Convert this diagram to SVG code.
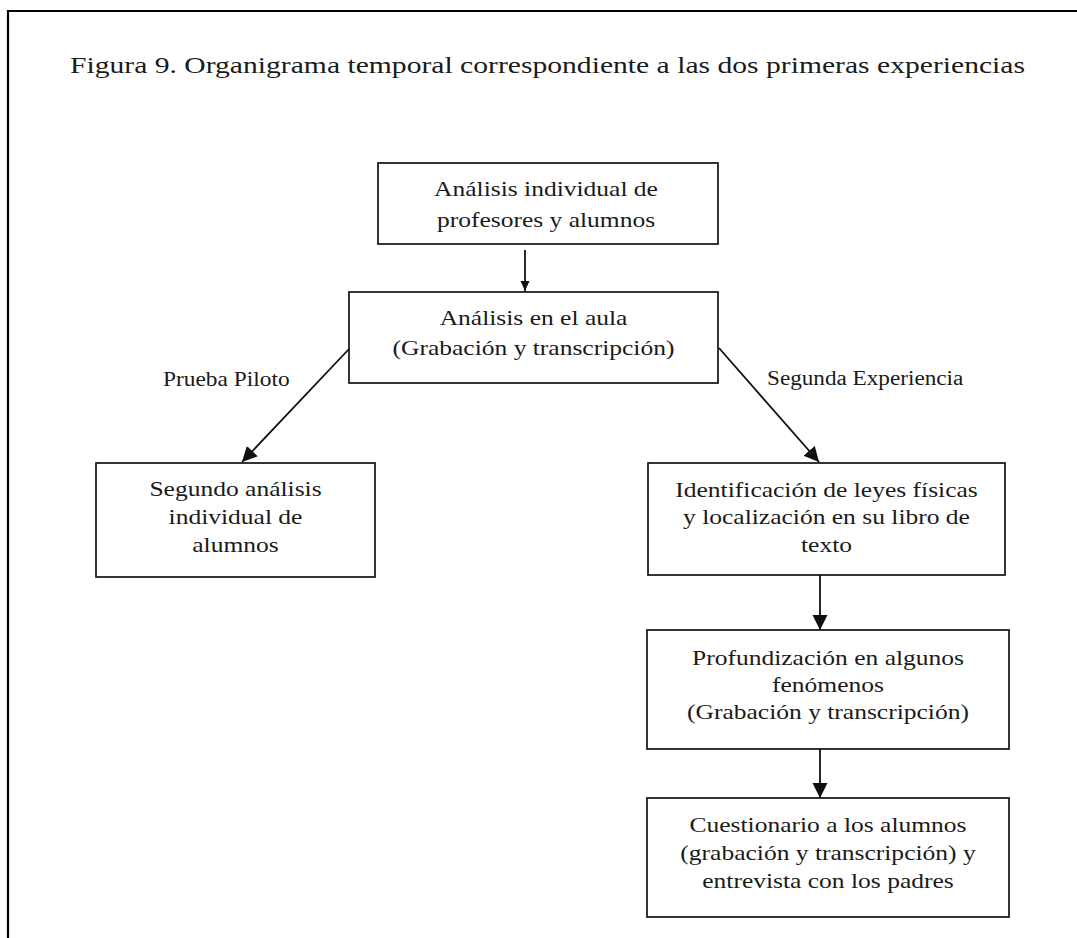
<svg xmlns="http://www.w3.org/2000/svg" width="1077" height="938" viewBox="0 0 1077 938">
  <style>
    .box { fill: #ffffff; stroke: #111111; stroke-width: 1.7; }
    .txt { font-family: "Liberation Serif", "Times New Roman", serif; font-size: 22px; fill: #1a1a1a; text-anchor: middle; }
    .lbl { font-family: "Liberation Serif", "Times New Roman", serif; font-size: 20px; fill: #1a1a1a; }
    .title { font-family: "Liberation Serif", "Times New Roman", serif; font-size: 23px; fill: #1a1a1a; }
    .edge { stroke: #111111; stroke-width: 1.8; fill: none; }
  </style>
  <defs>
    <marker id="head" markerUnits="userSpaceOnUse" markerWidth="17" markerHeight="16" refX="15" refY="7.5" orient="auto">
      <path d="M0,0 L15,7.5 L0,15 Z" fill="#111111"/>
    </marker>
    <marker id="headSmall" markerUnits="userSpaceOnUse" markerWidth="12" markerHeight="10" refX="10" refY="4.5" orient="auto">
      <path d="M0,0 L10,4.5 L0,9 Z" fill="#111111"/>
    </marker>
  </defs>

  <rect width="1077" height="938" fill="#ffffff"/>
  <!-- page frame -->
  <path d="M8,938 V11 H1077" fill="none" stroke="#000000" stroke-width="2.2"/>

  <text class="title" x="70" y="73" textLength="955" lengthAdjust="spacingAndGlyphs">Figura 9. Organigrama temporal correspondiente a las dos primeras experiencias</text>

  <g id="connectors">
    <line class="edge" x1="525" y1="250" x2="525" y2="291" marker-end="url(#headSmall)"/>
    <line class="edge" x1="349" y1="349" x2="242" y2="462" marker-end="url(#head)"/>
    <line class="edge" x1="719" y1="348" x2="819" y2="462" marker-end="url(#head)"/>
    <line class="edge" x1="820" y1="575" x2="820" y2="630" marker-end="url(#head)"/>
    <line class="edge" x1="820" y1="749" x2="820" y2="798" marker-end="url(#head)"/>
    <g transform="translate(163,0) scale(1.17,1)">
      <text class="lbl" x="0" y="386">Prueba Piloto</text>
    </g>
    <g transform="translate(767,0) scale(1.16,1)">
      <text class="lbl" x="0" y="385">Segunda Experiencia</text>
    </g>
  </g>

  <g id="n1">
    <rect class="box" x="378" y="163" width="340" height="81"/>
    <g transform="translate(546,0) scale(1.16,1)">
      <text class="txt" x="0" y="196">Análisis individual de</text>
      <text class="txt" x="0" y="227">profesores y alumnos</text>
    </g>
  </g>

  <g id="n2">
    <rect class="box" x="349" y="292" width="369" height="91"/>
    <g transform="translate(533.5,0) scale(1.16,1)">
      <text class="txt" x="0" y="325">Análisis en el aula</text>
      <text class="txt" x="0" y="355">(Grabación y transcripción)</text>
    </g>
  </g>

  <g id="n3">
    <rect class="box" x="96" y="463" width="279" height="114"/>
    <g transform="translate(235.5,0) scale(1.16,1)">
      <text class="txt" x="0" y="496">Segundo análisis</text>
      <text class="txt" x="0" y="524">individual de</text>
      <text class="txt" x="0" y="552">alumnos</text>
    </g>
  </g>

  <g id="n4">
    <rect class="box" x="648" y="463" width="357" height="112"/>
    <g transform="translate(826.5,0) scale(1.16,1)">
      <text class="txt" x="0" y="497">Identificación de leyes físicas</text>
      <text class="txt" x="0" y="524">y localización en su libro de</text>
      <text class="txt" x="0" y="552">texto</text>
    </g>
  </g>

  <g id="n5">
    <rect class="box" x="647" y="630" width="362" height="119"/>
    <g transform="translate(828,0) scale(1.16,1)">
      <text class="txt" x="0" y="665">Profundización en algunos</text>
      <text class="txt" x="0" y="692">fenómenos</text>
      <text class="txt" x="0" y="719">(Grabación y transcripción)</text>
    </g>
  </g>

  <g id="n6">
    <rect class="box" x="647" y="798" width="362" height="119"/>
    <g transform="translate(828,0) scale(1.16,1)">
      <text class="txt" x="0" y="832">Cuestionario a los alumnos</text>
      <text class="txt" x="0" y="860">(grabación y transcripción) y</text>
      <text class="txt" x="0" y="888">entrevista con los padres</text>
    </g>
  </g>
</svg>
